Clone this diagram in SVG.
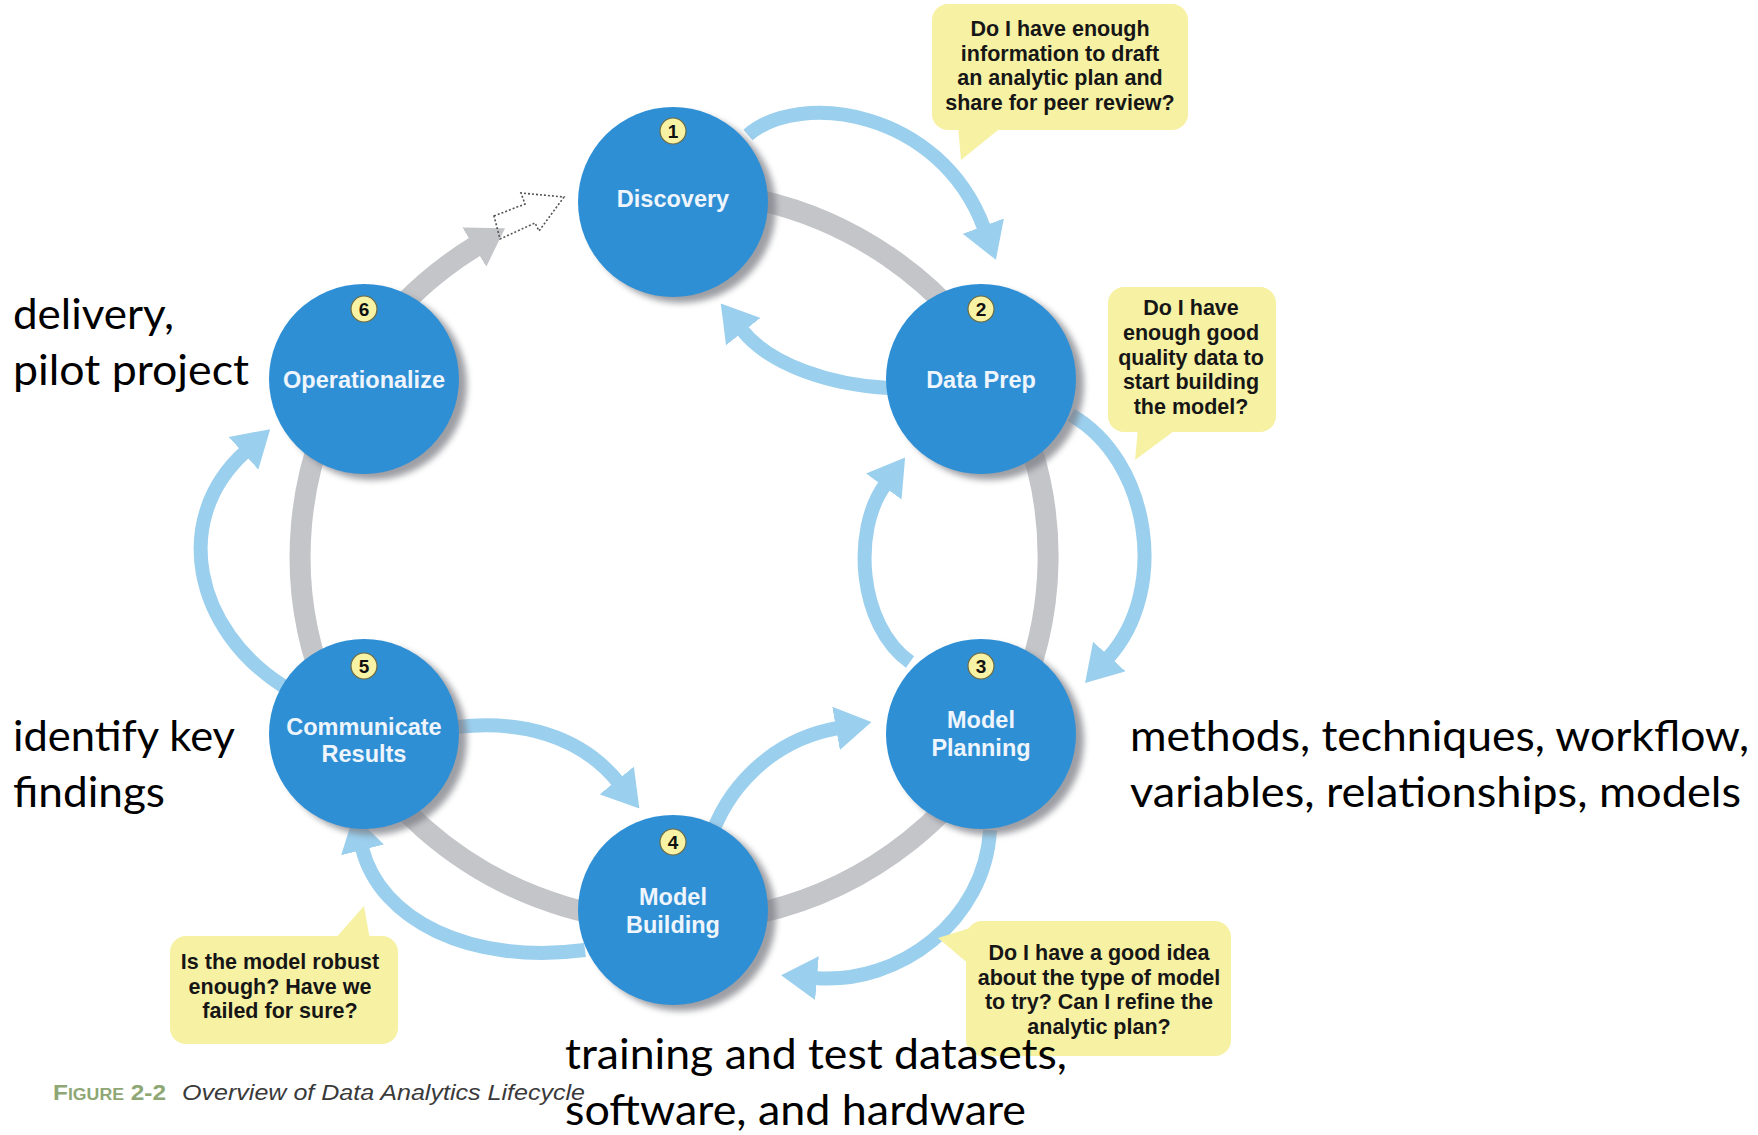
<svg xmlns="http://www.w3.org/2000/svg" width="1758" height="1135" viewBox="0 0 1758 1135">
  <defs>
    <style>
      .ring { fill: none; stroke: #c4c5c9; stroke-width: 21; }
      .flow { fill: none; stroke: #9bcfee; stroke-width: 14; }
      .node { fill: #2f8fd5; }
      .shadow { fill: #7d7f86; opacity: 0.75; filter: url(#soft); }
      .badge { fill: #f7f2a4; stroke: #6d6a40; stroke-width: 1.2; }
      .num { font-family: "Liberation Sans", Arial, sans-serif; font-weight: bold; font-size: 19px; fill: #111; text-anchor: middle; }
      .label { font-family: "Liberation Sans", Arial, sans-serif; font-weight: bold; font-size: 23.5px; fill: #eef5fc; text-anchor: middle; }
      .bubble { fill: #f7f1a3; }
      .btext { font-family: "Liberation Sans", Arial, sans-serif; font-weight: bold; font-size: 21.5px; fill: #161616; text-anchor: middle; }
      .note { font-family: Lato, "Open Sans", sans-serif; font-size: 42px; fill: #000; }
      .cap { font-family: "Liberation Sans", Arial, sans-serif; font-size: 22px; }
    </style>
    <filter id="soft" x="-20%" y="-20%" width="140%" height="140%">
      <feGaussianBlur stdDeviation="3"/>
    </filter>
    <marker id="headBlue" markerUnits="userSpaceOnUse" viewBox="0 0 36 44" markerWidth="36" markerHeight="44" refX="2" refY="22" orient="auto">
      <path d="M0,0 L36,22 L0,44 Z" fill="#9bcfee"/>
    </marker>
    <marker id="headGray" markerUnits="userSpaceOnUse" viewBox="0 0 36 46" markerWidth="36" markerHeight="46" refX="2" refY="23" orient="auto">
      <path d="M0,0 L36,23 L0,46 Z" fill="#c4c5c9"/>
    </marker>
  </defs>

  <rect width="1758" height="1135" fill="#ffffff"/>

  <!-- connectors: grey lifecycle ring and light-blue transitions -->
  <g id="connectors">
    <path class="ring" d="M739,196 A374,366 0 1 1 476,246" marker-end="url(#headGray)"/>
    <polygon points="494,216 525,204 521,193 564,197 539,231 535,223 500,239" fill="none" stroke="#555" stroke-width="1.6" stroke-dasharray="2,2"/>

    <path class="flow" d="M748,135 C800,90 940,110 984,228" marker-end="url(#headBlue)"/>
    <path class="flow" d="M889,388 C830,385 770,365 742,330" marker-end="url(#headBlue)"/>
    <path class="flow" d="M1071,415 C1150,460 1170,590 1108,658" marker-end="url(#headBlue)"/>
    <path class="flow" d="M910,662 C858,625 852,530 885,485" marker-end="url(#headBlue)"/>
    <path class="flow" d="M990,830 C985,920 900,985 815,978" marker-end="url(#headBlue)"/>
    <path class="flow" d="M709,843 C725,790 770,740 838,728" marker-end="url(#headBlue)"/>
    <path class="flow" d="M457,727 C520,720 580,735 618,782" marker-end="url(#headBlue)"/>
    <path class="flow" d="M585,950 C470,965 380,920 362,848" marker-end="url(#headBlue)"/>
    <path class="flow" d="M283,686 C195,630 170,520 245,452" marker-end="url(#headBlue)"/>
  </g>

  <!-- lifecycle phases -->
  <g id="discovery">
    <circle class="shadow" cx="681" cy="208" r="95"/>
    <circle class="node" cx="673" cy="202" r="95"/>
    <circle class="badge" cx="673" cy="131" r="13"/>
    <text class="num" x="673" y="138">1</text>
    <text class="label" x="673" y="207">Discovery</text>
  </g>
  <g id="data-prep">
    <circle class="shadow" cx="989" cy="385" r="95"/>
    <circle class="node" cx="981" cy="379" r="95"/>
    <circle class="badge" cx="981" cy="309" r="13"/>
    <text class="num" x="981" y="316">2</text>
    <text class="label" x="981" y="388">Data Prep</text>
  </g>
  <g id="model-planning">
    <circle class="shadow" cx="989" cy="740" r="95"/>
    <circle class="node" cx="981" cy="734" r="95"/>
    <circle class="badge" cx="981" cy="666" r="13"/>
    <text class="num" x="981" y="673">3</text>
    <text class="label" x="981" y="728">Model</text>
    <text class="label" x="981" y="756">Planning</text>
  </g>
  <g id="model-building">
    <circle class="shadow" cx="681" cy="916" r="95"/>
    <circle class="node" cx="673" cy="910" r="95"/>
    <circle class="badge" cx="673" cy="842" r="13"/>
    <text class="num" x="673" y="849">4</text>
    <text class="label" x="673" y="905">Model</text>
    <text class="label" x="673" y="933">Building</text>
  </g>
  <g id="communicate-results">
    <circle class="shadow" cx="372" cy="740" r="95"/>
    <circle class="node" cx="364" cy="734" r="95"/>
    <circle class="badge" cx="364" cy="666" r="13"/>
    <text class="num" x="364" y="673">5</text>
    <text class="label" x="364" y="735">Communicate</text>
    <text class="label" x="364" y="762">Results</text>
  </g>
  <g id="operationalize">
    <circle class="shadow" cx="372" cy="385" r="95"/>
    <circle class="node" cx="364" cy="379" r="95"/>
    <circle class="badge" cx="364" cy="309" r="13"/>
    <text class="num" x="364" y="316">6</text>
    <text class="label" x="364" y="388">Operationalize</text>
  </g>

  <!-- question callouts -->
  <g id="q-discovery">
    <rect class="bubble" x="932" y="4" width="256" height="126" rx="16"/>
    <polygon class="bubble" points="958,126 1003,126 961,160"/>
    <text class="btext" x="1060" y="36">Do I have enough</text>
    <text class="btext" x="1060" y="61">information to draft</text>
    <text class="btext" x="1060" y="85">an analytic plan and</text>
    <text class="btext" x="1060" y="110">share for peer review?</text>
  </g>
  <g id="q-data-prep">
    <rect class="bubble" x="1108" y="287" width="168" height="145" rx="16"/>
    <polygon class="bubble" points="1138,428 1178,428 1135,460"/>
    <text class="btext" x="1191" y="315">Do I have</text>
    <text class="btext" x="1191" y="340">enough good</text>
    <text class="btext" x="1191" y="365">quality data to</text>
    <text class="btext" x="1191" y="389">start building</text>
    <text class="btext" x="1191" y="414">the model?</text>
  </g>
  <g id="q-model-planning">
    <rect class="bubble" x="966" y="921" width="265" height="135" rx="16"/>
    <polygon class="bubble" points="970,928 970,965 938,938"/>
    <text class="btext" x="1099" y="960">Do I have a good idea</text>
    <text class="btext" x="1099" y="985">about the type of model</text>
    <text class="btext" x="1099" y="1009">to try? Can I refine the</text>
    <text class="btext" x="1099" y="1034">analytic plan?</text>
  </g>
  <g id="q-model-building">
    <rect class="bubble" x="170" y="936" width="228" height="108" rx="16"/>
    <polygon class="bubble" points="334,940 370,940 364,906"/>
    <text class="btext" x="280" y="969">Is the model robust</text>
    <text class="btext" x="280" y="994">enough? Have we</text>
    <text class="btext" x="280" y="1018">failed for sure?</text>
  </g>

  <!-- annotations -->
  <g id="notes">
    <text class="note" x="13" y="329" textLength="161" lengthAdjust="spacingAndGlyphs">delivery,</text>
    <text class="note" x="13" y="385" textLength="236" lengthAdjust="spacingAndGlyphs">pilot project</text>
    <text class="note" x="13" y="751" textLength="222" lengthAdjust="spacingAndGlyphs">identify key</text>
    <text class="note" x="13" y="807" textLength="152" lengthAdjust="spacingAndGlyphs">findings</text>
    <text class="note" x="1130" y="751" textLength="619" lengthAdjust="spacingAndGlyphs">methods, techniques, workflow,</text>
    <text class="note" x="1130" y="807" textLength="611" lengthAdjust="spacingAndGlyphs">variables, relationships, models</text>
    <text class="note" x="565" y="1069" textLength="502" lengthAdjust="spacingAndGlyphs">training and test datasets,</text>
    <text class="note" x="565" y="1125" textLength="461" lengthAdjust="spacingAndGlyphs">software, and hardware</text>
  </g>

  <!-- figure caption -->
  <g id="caption">
    <text class="cap" x="53" y="1100" fill="#8ea774" font-weight="bold" textLength="113" lengthAdjust="spacingAndGlyphs">F<tspan font-size="16">IGURE</tspan> 2-2</text>
    <text class="cap" x="182" y="1100" fill="#3a3a3a" font-style="italic" textLength="403" lengthAdjust="spacingAndGlyphs">Overview of Data Analytics Lifecycle</text>
  </g>
</svg>
